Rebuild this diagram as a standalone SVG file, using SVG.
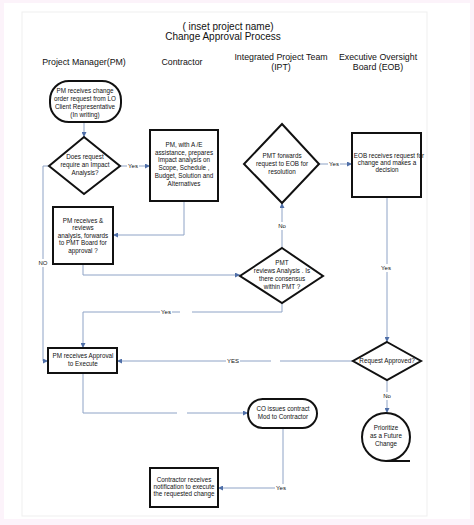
<svg xmlns="http://www.w3.org/2000/svg" width="474" height="525" viewBox="0 0 474 525">
<style>
text{font-family:"Liberation Sans",Arial,sans-serif;fill:#111;text-anchor:middle}
.t{font-size:6.3px}
.h{font-size:8.8px}
.ti{font-size:10px}
.lb{font-size:6px}
.n{fill:#fff;stroke:#111;stroke-width:2}
.c{fill:none;stroke:#8ea3c6;stroke-width:1}
.bg{fill:#fff}
</style>
<defs>
<marker id="a" viewBox="0 0 6 6" refX="6" refY="3" markerWidth="5" markerHeight="5" orient="auto" markerUnits="userSpaceOnUse">
<path d="M0,0 L6,3 L0,6 z" fill="#4f6fa8"/>
</marker>
</defs>
<rect width="474" height="525" fill="#fcf3fa"/>
<rect x="4" y="3" width="466" height="516" fill="#fff"/>
<rect x="22" y="12" width="405" height="504" fill="none" stroke="#efefef" stroke-width="1"/>

<g id="title">
<text class="ti" x="228" y="30">(   inset project name)</text>
<text class="ti" x="223" y="40">Change Approval Process</text>
</g>
<g id="headers">
<text class="h" x="84" y="65">Project Manager(PM)</text>
<text class="h" x="182" y="65">Contractor</text>
<text class="h" x="281" y="60">Integrated Project Team</text>
<text class="h" x="281" y="70">(IPT)</text>
<text class="h" x="378" y="60">Executive Oversight</text>
<text class="h" x="378" y="70">Board (EOB)</text>
</g>

<g id="connectors">
<path class="c" d="M84,122 V137" marker-end="url(#a)"/>
<path class="c" d="M120,166 H150" marker-end="url(#a)"/>
<path class="c" d="M184,201 V235 H113" marker-end="url(#a)"/>
<path class="c" d="M49,166 H43 V361 H48" marker-end="url(#a)"/>
<path class="c" d="M83,264 V275 H240" marker-end="url(#a)"/>
<path class="c" d="M282,248 V203" marker-end="url(#a)"/>
<path class="c" d="M319,164 H352" marker-end="url(#a)"/>
<path class="c" d="M387,197 V342" marker-end="url(#a)"/>
<path class="c" d="M282,303 V312 H192 M180,312 H83 V348" marker-end="url(#a)"/>
<path class="c" d="M353,361 H280 M271,361 H117" marker-end="url(#a)"/>
<path class="c" d="M83,373 V413 H177 M187,413 H248" marker-end="url(#a)"/>
<path class="c" d="M283,428 V488 H218" marker-end="url(#a)"/>
<path class="c" d="M387,380 V413" marker-end="url(#a)"/>
<rect class="bg" x="127" y="162" width="12" height="8"/>
<text class="lb" x="133" y="168">Yes</text>
<rect class="bg" x="38" y="259" width="10" height="8"/>
<text class="lb" x="43" y="265">NO</text>
<rect class="bg" x="277" y="222" width="10" height="8"/>
<text class="lb" x="282" y="228">No</text>
<rect class="bg" x="328" y="160" width="12" height="8"/>
<text class="lb" x="334" y="166">Yes</text>
<rect class="bg" x="380" y="264" width="12" height="8"/>
<text class="lb" x="386" y="270">Yes</text>
<rect class="bg" x="160" y="308" width="12" height="8"/>
<text class="lb" x="166" y="314">Yes</text>
<rect class="bg" x="226" y="357" width="14" height="8"/>
<text class="lb" x="233" y="363">YES</text>
<rect class="bg" x="275" y="484" width="12" height="8"/>
<text class="lb" x="281" y="490">Yes</text>
<rect class="bg" x="382" y="392" width="10" height="8"/>
<text class="lb" x="387" y="398">No</text>
</g>

<g id="n1">
<rect class="n" x="50" y="81" width="71" height="41" rx="19"/>
<text class="t" x="85" y="93">PM receives change</text>
<text class="t" x="85" y="101">order request from LO</text>
<text class="t" x="85" y="109">Client Representative</text>
<text class="t" x="85" y="117">(In writing)</text>
</g>
<g id="n2">
<path class="n" d="M84,137 L120,166 L84,194 L49,166 Z"/>
<text class="t" x="85" y="159">Does request</text>
<text class="t" x="85" y="167">require an Impact</text>
<text class="t" x="85" y="175">Analysis?</text>
</g>
<g id="n3">
<rect class="n" x="150" y="130" width="68" height="71"/>
<text class="t" x="184" y="147">PM, with A /E</text>
<text class="t" x="184" y="155">assistance, prepares</text>
<text class="t" x="184" y="162">Impact analysis on</text>
<text class="t" x="184" y="170">Scope, Schedule ,</text>
<text class="t" x="184" y="178">Budget, Solution and</text>
<text class="t" x="184" y="186">Alternatives</text>
</g>
<g id="n4">
<rect class="n" x="53" y="207" width="60" height="57"/>
<text class="t" x="83" y="223">PM receives &amp;</text>
<text class="t" x="83" y="230">reviews</text>
<text class="t" x="83" y="238">analysis, forwards</text>
<text class="t" x="83" y="245">to PMT Board for</text>
<text class="t" x="83" y="253">approval ?</text>
</g>
<g id="n5">
<path class="n" d="M282,248 L323,276 L282,303 L240,276 Z"/>
<text class="t" x="282" y="265">PMT</text>
<text class="t" x="282" y="273">reviews Analysis .  Is</text>
<text class="t" x="282" y="281">there consensus</text>
<text class="t" x="282" y="289">within PMT ?</text>
</g>
<g id="n6">
<path class="n" d="M282,124 L319,164 L282,203 L244,164 Z"/>
<text class="t" x="282" y="158">PMT forwards</text>
<text class="t" x="282" y="166">request to EOB for</text>
<text class="t" x="282" y="174">resolution</text>
</g>
<g id="n7">
<rect class="n" x="352" y="133" width="69" height="64"/>
<text class="t" x="389" y="158">EOB receives request for</text>
<text class="t" x="387" y="165">change and makes a</text>
<text class="t" x="387" y="172">decision</text>
</g>
<g id="n8">
<path class="n" d="M387,342 L421,361 L387,380 L353,361 Z"/>
<text class="t" x="387" y="363">Request Approved?</text>
</g>
<g id="n9">
<rect class="n" x="48" y="348" width="69" height="25"/>
<text class="t" x="83" y="358">PM receives Approval</text>
<text class="t" x="83" y="366">to Execute</text>
</g>
<g id="n10">
<rect class="n" x="248" y="399" width="69" height="29" rx="14.5"/>
<text class="t" x="283" y="411">CO issues contract</text>
<text class="t" x="283" y="419">Mod to Contractor</text>
</g>
<g id="n11">
<rect class="n" x="150" y="468" width="68" height="39"/>
<text class="t" x="184" y="482">Contractor receives</text>
<text class="t" x="184" y="489">notification to execute</text>
<text class="t" x="184" y="496">the requested change</text>
</g>
<g id="n12">
<circle class="n" cx="386" cy="437" r="24"/>
<path d="M386,461 H410" fill="none" stroke="#111" stroke-width="2"/>
<text class="t" x="386" y="430">Prioritize</text>
<text class="t" x="386" y="438">as a Future</text>
<text class="t" x="386" y="446">Change</text>
</g>
</svg>
